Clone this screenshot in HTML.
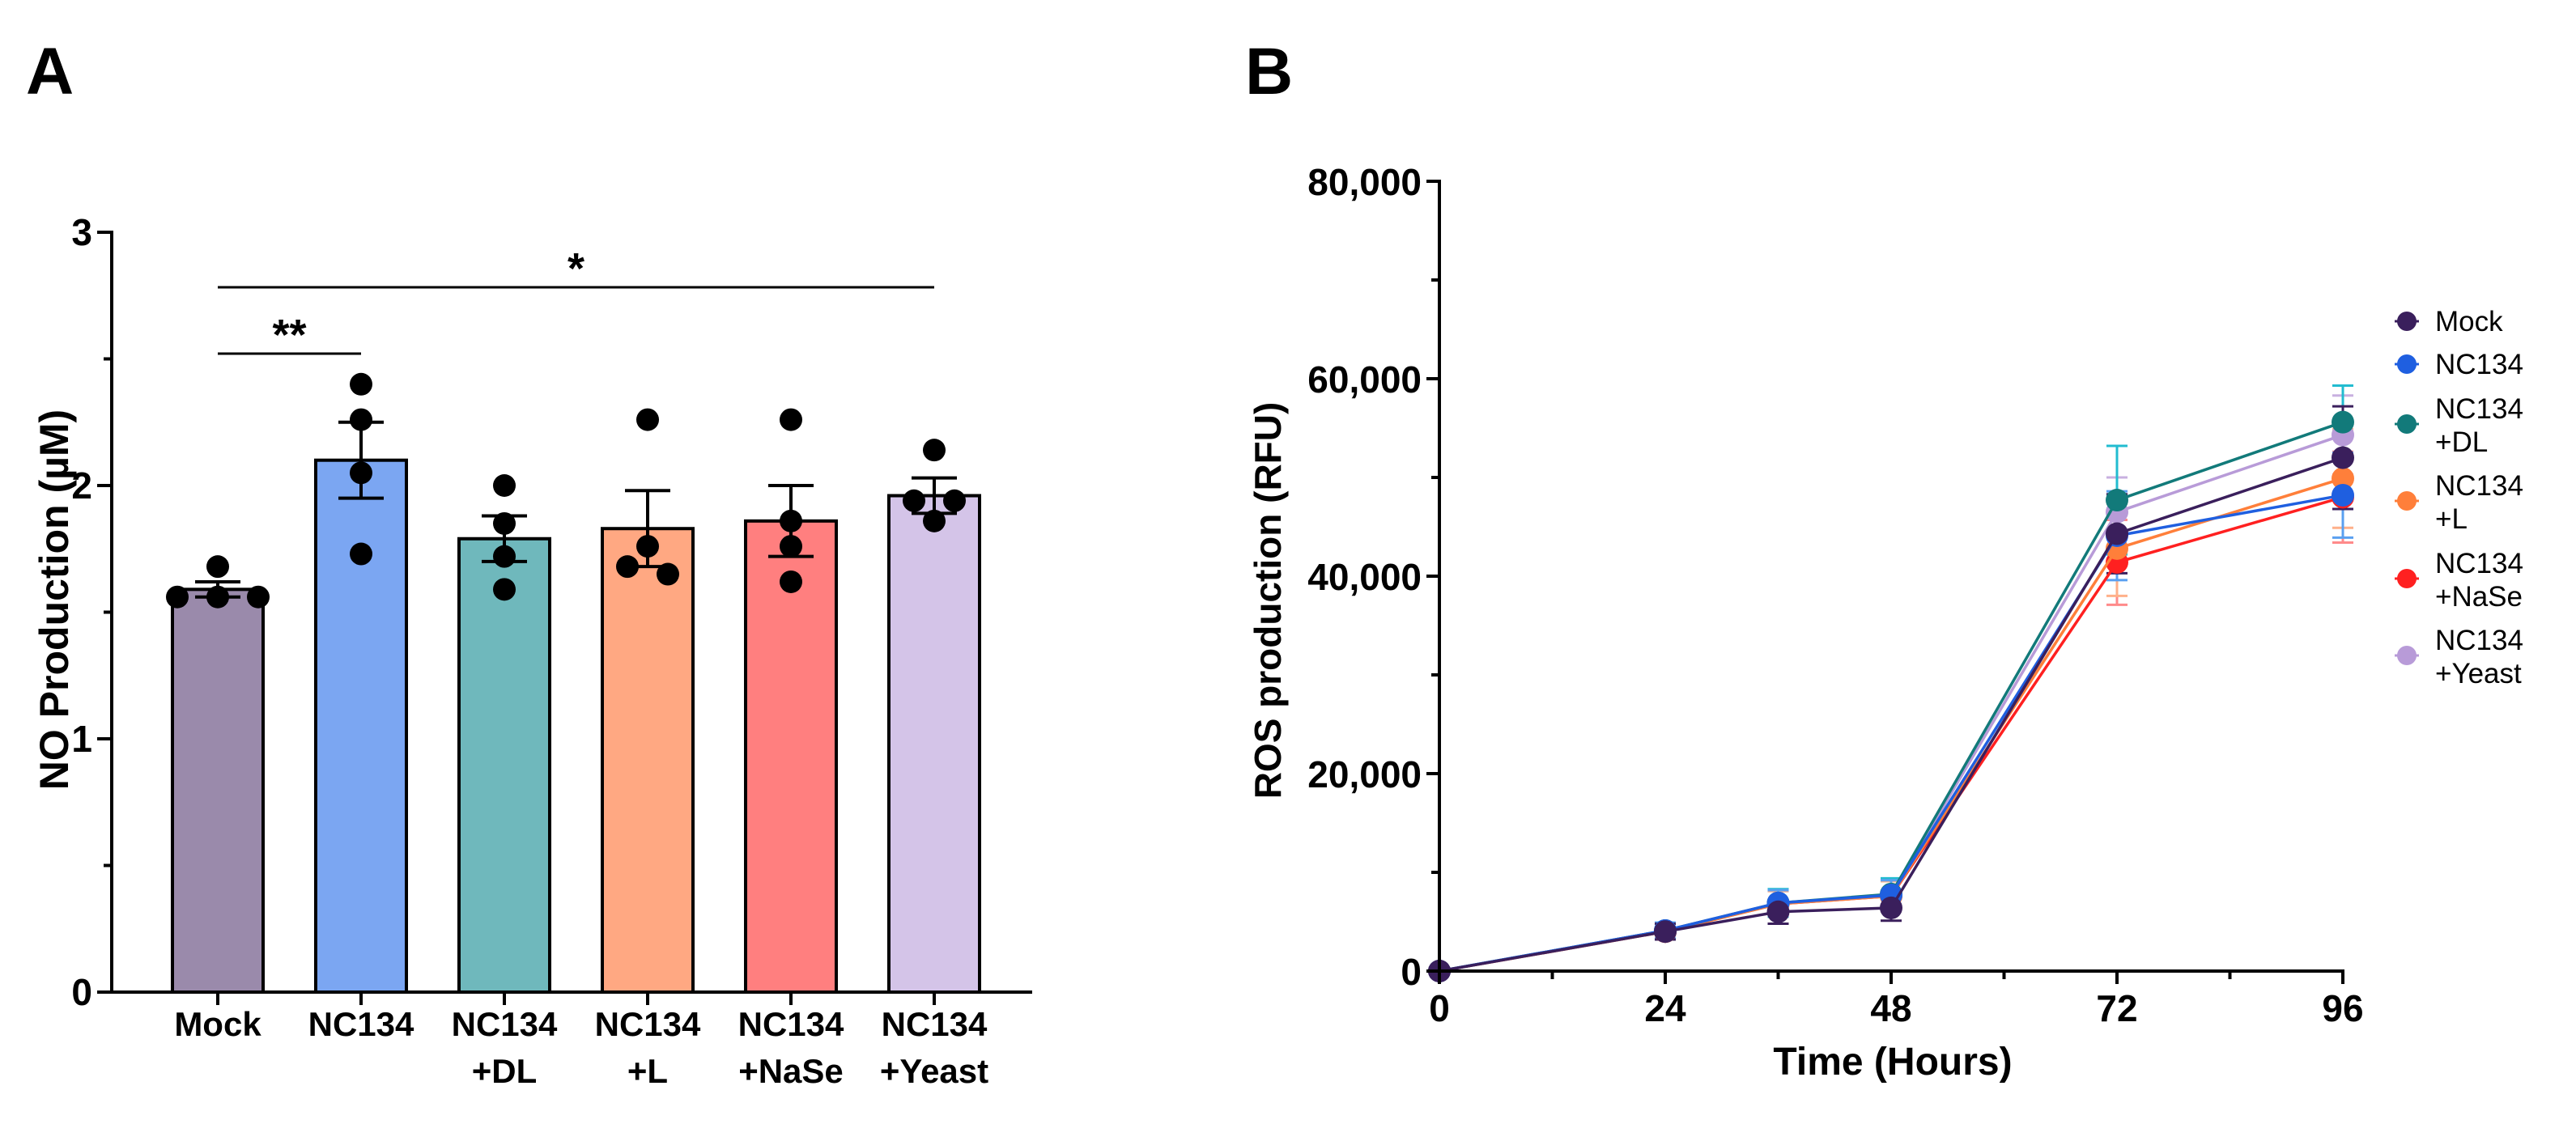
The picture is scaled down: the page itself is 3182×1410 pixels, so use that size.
<!DOCTYPE html>
<html><head><meta charset="utf-8">
<style>
html,body{margin:0;padding:0;background:#fff;}
svg{display:block;font-family:"Liberation Sans",sans-serif;}
</style></head>
<body>
<svg id="fig" width="3182" height="1410" viewBox="0 0 3182 1410" xmlns="http://www.w3.org/2000/svg">
<rect x="0" y="0" width="3182" height="1410" fill="#fff"/>
<text x="32" y="116" font-size="82" font-weight="bold">A</text>
<text x="1538" y="116" font-size="82" font-weight="bold">B</text>
<g id="chartA"></g>
<g id="chartB"></g>
</svg>
<script>
// ---------- Panel A data ----------
const catsA = [["Mock"],["NC134"],["NC134","+DL"],["NC134","+L"],["NC134","+NaSe"],["NC134","+Yeast"]];
const meansA = [1.59, 2.10, 1.79, 1.83, 1.86, 1.96];
const semA = [0.03, 0.15, 0.09, 0.15, 0.14, 0.07];
const pointsA = [[1.56,1.56,1.56,1.68],[2.40,2.26,2.05,1.73],[2.00,1.85,1.72,1.59],[2.26,1.76,1.68,1.65],[2.26,1.86,1.76,1.62],[2.14,1.94,1.94,1.86]];
const ticksA = [0,1,2,3];
const minorA = [0.5,1.5,2.5];
const fillsA = ["#9a8aab","#7ba6f2","#6fb8bc","#ffa882","#ff7f7f","#d4c4e8"];

// ---------- Panel B data ----------
const timesB = [0,24,36,48,72,96];
const seriesNamesB = ["Yeast","NaSe","L","DL","NC134","Mock"];
const legendB = [["Mock"],["NC134"],["NC134","+DL"],["NC134","+L"],["NC134","+NaSe"],["NC134","+Yeast"]];
const valMock = [0,4.0,6.0,6.4,44.3,52.0];
const valNC134 = [0,4.1,6.9,7.7,44.1,48.2];
const valDL = [0,4.1,6.9,7.8,47.7,55.6];
const valL = [0,4.0,6.8,7.6,42.8,49.9];
const valNaSe = [0,4.0,6.8,7.6,41.4,48.0];
const valYeast = [0,4.1,6.9,7.7,46.5,54.3];
const semMock = [0,0.8,1.2,1.3,4.0,5.2];
const semNC134 = [0,0.8,1.3,1.5,4.5,4.3];
const semDL = [0,0.8,1.4,1.6,5.5,3.7];
const semL = [0,0.8,1.3,1.5,4.8,5.0];
const semNaSe = [0,0.8,1.3,1.5,4.3,4.6];
const semYeast = [0,0.8,1.3,1.5,3.5,4.0];
const ticksBy = [0,20,40,60,80];
const ticksBx = [0,24,48,72,96];
const minorBx = [12,36,60,84];
const minorBy = [10,30,50,70];

const NS="http://www.w3.org/2000/svg";
function mk(tag, attrs, parent){const e=document.createElementNS(NS,tag);for(const k in attrs)e.setAttribute(k,attrs[k]);parent.appendChild(e);return e;}

// ---------- Panel A ----------
const gA=document.getElementById('chartA');
const A={x0:138,x1:1275,y0:1226,y3:287};
const yA=v=>A.y0-(A.y0-A.y3)*v/3;
const xA=i=>269+i*177;
const bw=112;
catsA.forEach((c,i)=>{
  const r=mk('rect',{x:xA(i)-bw/2,y:yA(meansA[i]),width:bw,height:A.y0-yA(meansA[i]),fill:fillsA[i],stroke:'#000','stroke-width':4},gA);
  
  
});
pointsA.forEach((pts,i)=>{
  pts.forEach((p,j)=>{
    const near=pts.filter(q=>Math.abs(q-p)<0.06).length;
    let dx=0;
    if(near>1){const idx=pts.filter((q,m)=>Math.abs(q-p)<0.06&&m<j).length;dx=(idx-(near-1)/2)*50;}
    const c=mk('circle',{cx:xA(i)+dx,cy:yA(p),r:14,fill:'#000'},gA);
    
    
  });
});
meansA.forEach((m,i)=>{
  const x=xA(i),t=yA(m+semA[i]),b=yA(m-semA[i]);
  const e=mk('path',{d:`M${x} ${t}V${b}M${x-28} ${t}H${x+28}M${x-28} ${b}H${x+28}`,stroke:'#000','stroke-width':4,fill:'none'},gA);
  
  
});
const axA=mk('path',{d:`M${A.x0} ${A.y3-2}V${A.y0}H${A.x1}`,stroke:'#000','stroke-width':4,fill:'none'},gA);


ticksA.forEach(t=>{
  mk('line',{x1:A.x0-18,x2:A.x0,y1:yA(t),y2:yA(t),stroke:'#000','stroke-width':4},gA);
  const tx=mk('text',{x:A.x0-24,y:yA(t)+16,'font-size':46,'font-weight':'bold','text-anchor':'end'},gA);
  tx.textContent=t;
  
  
});
minorA.forEach(t=>mk('line',{x1:A.x0-10,x2:A.x0,y1:yA(t),y2:yA(t),stroke:'#000','stroke-width':4},gA));
catsA.forEach((c,i)=>{
  mk('line',{x1:xA(i),x2:xA(i),y1:A.y0,y2:A.y0+16,stroke:'#000','stroke-width':4},gA);
  c.forEach((s,j)=>{
    const tx=mk('text',{x:xA(i),y:1280+j*58,'font-size':42,'font-weight':'bold','text-anchor':'middle'},gA);
    tx.textContent=s;
    
    
  });
});
const ytA=mk('text',{x:0,y:0,'font-size':50,'font-weight':'bold','text-anchor':'middle',transform:'translate(84,741) rotate(-90)'},gA);
ytA.textContent='NO Production (µM)';


mk('line',{x1:xA(0),x2:xA(1),y1:437,y2:437,stroke:'#000','stroke-width':3},gA);
const s1=mk('text',{x:(xA(0)+xA(1))/2,y:432,'font-size':54,'font-weight':'bold','text-anchor':'middle'},gA);
s1.textContent='**';


mk('line',{x1:xA(0),x2:xA(5),y1:355,y2:355,stroke:'#000','stroke-width':3},gA);
const s2=mk('text',{x:(xA(0)+xA(5))/2,y:350,'font-size':54,'font-weight':'bold','text-anchor':'middle'},gA);
s2.textContent='*';



// ---------- Panel B ----------
const gB=document.getElementById('chartB');
const B={x0:1778,x1:2894,y0:1200,y1:224};
const xB=t=>B.x0+(B.x1-B.x0)*t/96;
const yB=v=>B.y0-(B.y0-B.y1)*v/80;
const seriesB={
  Mock:{v:valMock,s:semMock,c:'#3a1f5c',e:'#3a1f5c'},
  NC134:{v:valNC134,s:semNC134,c:'#1f5fe0',e:'#5aa0f0'},
  DL:{v:valDL,s:semDL,c:'#127a7a',e:'#22bcd0'},
  L:{v:valL,s:semL,c:'#ff7f3a',e:'#ffb08a'},
  NaSe:{v:valNaSe,s:semNaSe,c:'#ff2020',e:'#ff8a8a'},
  Yeast:{v:valYeast,s:semYeast,c:'#b89bd8',e:'#c8b0e0'}
};
seriesNamesB.forEach(n=>{
  const S=seriesB[n];
  timesB.forEach((t,i)=>{
    if(S.s[i]<=0)return;
    const x=xB(t),a=yB(S.v[i]+S.s[i]),b=yB(S.v[i]-S.s[i]);
    const e=mk('path',{d:`M${x} ${a}V${b}M${x-13} ${a}H${x+13}M${x-13} ${b}H${x+13}`,stroke:S.e,'stroke-width':3,fill:'none'},gB);
    
    
  });
});
seriesNamesB.forEach(n=>{
  const S=seriesB[n];
  const d=timesB.map((t,i)=>(i?'L':'M')+xB(t)+' '+yB(S.v[i])).join('');
  const l=mk('path',{d:d,stroke:S.c,'stroke-width':3.5,fill:'none'},gB);
  
  
  timesB.forEach((t,i)=>{
    const c=mk('circle',{cx:xB(t),cy:yB(S.v[i]),r:14,fill:S.c},gB);
    
    
  });
});
const axB=mk('path',{d:`M${B.x0} ${B.y1-2}V${B.y0}H${B.x1+2}`,stroke:'#000','stroke-width':4,fill:'none'},gB);


ticksBy.forEach(t=>{
  mk('line',{x1:B.x0-16,x2:B.x0,y1:yB(t),y2:yB(t),stroke:'#000','stroke-width':4},gB);
  const tx=mk('text',{x:B.x0-22,y:yB(t)+17,'font-size':46,'font-weight':'bold','text-anchor':'end'},gB);
  tx.textContent=t===0?'0':t+',000';
  
  
});
minorBy.forEach(t=>mk('line',{x1:B.x0-10,x2:B.x0,y1:yB(t),y2:yB(t),stroke:'#000','stroke-width':4},gB));
ticksBx.forEach(t=>{
  mk('line',{x1:xB(t),x2:xB(t),y1:B.y0,y2:B.y0+16,stroke:'#000','stroke-width':4},gB);
  const tx=mk('text',{x:xB(t),y:1262,'font-size':46,'font-weight':'bold','text-anchor':'middle'},gB);
  tx.textContent=t;
  
  
});
minorBx.forEach(t=>mk('line',{x1:xB(t),x2:xB(t),y1:B.y0,y2:B.y0+10,stroke:'#000','stroke-width':4},gB));
const xtB=mk('text',{x:2338,y:1328,'font-size':48,'font-weight':'bold','text-anchor':'middle'},gB);
xtB.textContent='Time (Hours)';


const ytB=mk('text',{x:0,y:0,'font-size':46,'font-weight':'bold','text-anchor':'middle',transform:'translate(1582,742) rotate(-90)'},gB);
ytB.textContent='ROS production (RFU)';


// legend
const legY=[397,450,524,619,715,810];
const legKeys=["Mock","NC134","DL","L","NaSe","Yeast"];
legendB.forEach((lab,i)=>{
  const S=seriesB[legKeys[i]];
  const g=mk('g',{},gB);
  
  
  mk('line',{x1:2958,x2:2988,y1:legY[i],y2:legY[i],stroke:S.c,'stroke-width':3},g);
  mk('circle',{cx:2973,cy:legY[i],r:12,fill:S.c},g);
  lab.forEach((s,j)=>{
    const yy=lab.length===1?legY[i]+12:legY[i]-7+j*41;
    const tx=mk('text',{x:3008,y:yy,'font-size':35},g);
    tx.textContent=s;
  });
});
</script>
</body></html>
